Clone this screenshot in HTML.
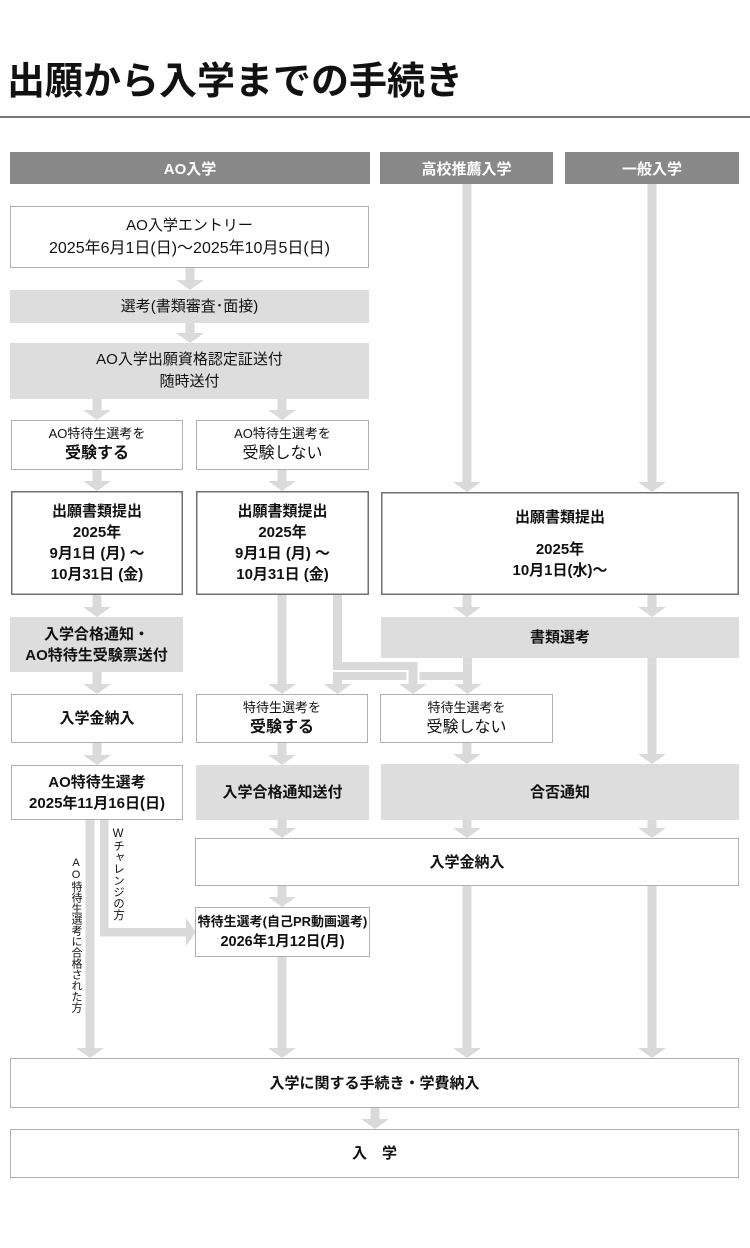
<!DOCTYPE html>
<html lang="ja">
<head>
<meta charset="utf-8">
<style>
  html,body{margin:0;padding:0;background:#fff;}
  #wrap{position:relative;width:750px;height:1248px;overflow:hidden;background:#fff;
    font-family:"Liberation Sans","Noto Sans CJK JP",sans-serif;color:#111;}
  svg{position:absolute;left:0;top:0;}
  .t{position:absolute;display:flex;flex-direction:column;justify-content:center;align-items:center;text-align:center;color:#111;white-space:nowrap;}
  .b{font-weight:bold;}
  .h{color:#fff;font-weight:bold;font-size:15px;}
  .f15{font-size:15px;line-height:21px;}
  .r15{font-size:15px;line-height:23px;}
  .s13{font-size:13px;line-height:18px;}
  .m16{font-size:16px;line-height:22px;}
  .v{position:absolute;writing-mode:vertical-rl;text-orientation:upright;font-size:11px;line-height:12px;color:#111;white-space:nowrap;}
</style>
</head>
<body>
<div id="wrap">
<svg width="750" height="1248" viewBox="0 0 750 1248" xmlns="http://www.w3.org/2000/svg">
  <rect x="0" y="116" width="750" height="2" fill="#777"/>
  <rect x="10" y="152" width="360" height="32" fill="#888"/>
  <rect x="380" y="152" width="173" height="32" fill="#888"/>
  <rect x="565" y="152" width="174" height="32" fill="#888"/>

  <g fill="#dadada">
    <rect x="462.5" y="184" width="9" height="299"/><polygon points="453,482 481,482 467,492"/>
    <rect x="647.5" y="184" width="9" height="299"/><polygon points="638,482 666,482 652,492"/>
    <rect x="185.5" y="268" width="9" height="13"/><polygon points="176,280 204,280 190,290"/>
    <rect x="185.5" y="323" width="9" height="11"/><polygon points="176,333 204,333 190,343"/>
    <rect x="92.5" y="399" width="9" height="12"/><polygon points="83,410 111,410 97,420"/>
    <rect x="277.5" y="399" width="9" height="12"/><polygon points="268,410 296,410 282,420"/>
    <rect x="92.5" y="470" width="9" height="12"/><polygon points="83,481 111,481 97,491"/>
    <rect x="277.5" y="470" width="9" height="12"/><polygon points="268,481 296,481 282,491"/>
    <rect x="92.5" y="595" width="9" height="13"/><polygon points="83,607 111,607 97,617"/>
    <rect x="462.5" y="595" width="9" height="13"/><polygon points="453,607 481,607 467,617"/>
    <rect x="647.5" y="595" width="9" height="13"/><polygon points="638,607 666,607 652,617"/>
    <rect x="277.5" y="595" width="9" height="90"/><polygon points="268,684 296,684 282,694"/>
    <rect x="333" y="595" width="9" height="75"/>
    <rect x="333" y="662" width="84.5" height="8"/>
    <rect x="408.5" y="662" width="9" height="23"/><polygon points="399,684 427,684 413,694"/>
    <rect x="463" y="658" width="9" height="27"/><polygon points="454,684 482,684 467.5,694"/>
    <rect x="333" y="672" width="73.5" height="8"/>
    <rect x="419.5" y="672" width="52.5" height="8"/>
    <rect x="333" y="672" width="9" height="13"/><polygon points="323.5,684 351.5,684 337.5,694"/>

    <rect x="92.5" y="672" width="9" height="13"/><polygon points="83,684 111,684 97,694"/>
    <rect x="92.5" y="743" width="9" height="13"/><polygon points="83,755 111,755 97,765"/>
    <rect x="277.5" y="743" width="9" height="13"/><polygon points="268,755 296,755 282,765"/>
    <rect x="462.5" y="743" width="9" height="12"/><polygon points="453,754 481,754 467,764"/>
    <rect x="647.5" y="658" width="9" height="97"/><polygon points="638,754 666,754 652,764"/>
    <rect x="277.5" y="820" width="9" height="9"/><polygon points="268,828 296,828 282,838"/>
    <rect x="462.5" y="820" width="9" height="9"/><polygon points="453,828 481,828 467,838"/>
    <rect x="647.5" y="820" width="9" height="9"/><polygon points="638,828 666,828 652,838"/>
    <rect x="277.5" y="886" width="9" height="12"/><polygon points="268,897 296,897 282,907"/>
    <rect x="462.5" y="886" width="9" height="163"/><polygon points="453,1048 481,1048 467,1058"/>
    <rect x="647.5" y="886" width="9" height="163"/><polygon points="638,1048 666,1048 652,1058"/>
    <rect x="277.5" y="957" width="9" height="92"/><polygon points="268,1048 296,1048 282,1058"/>
    <rect x="85.5" y="820" width="9" height="229"/><polygon points="76,1048 104,1048 90,1058"/>
    <rect x="100" y="820" width="8.5" height="116.5"/>
    <rect x="100" y="928" width="87" height="8.5"/><polygon points="186,918 186,946 196,932"/>
    <rect x="370.5" y="1108" width="9" height="12"/><polygon points="361,1119 389,1119 375,1129"/>
  </g>

  <g stroke="#b0b0b0" stroke-width="1" fill="#fff">
    <rect x="10.5" y="206.5" width="358" height="61"/>
    <rect x="11.5" y="420.5" width="171" height="49"/>
    <rect x="196.5" y="420.5" width="172" height="49"/>
    <rect x="11.5" y="694.5" width="171" height="48"/>
    <rect x="196.5" y="694.5" width="171" height="48"/>
    <rect x="380.5" y="694.5" width="172" height="48"/>
    <rect x="11.5" y="765.5" width="171" height="54"/>
    <rect x="195.5" y="838.5" width="543" height="47"/>
    <rect x="195.5" y="907.5" width="174" height="49"/>
    <rect x="10.5" y="1058.5" width="728" height="49"/>
    <rect x="10.5" y="1129.5" width="728" height="48"/>
  </g>
  <g stroke="#707070" stroke-width="1.5" fill="#fff">
    <rect x="11.75" y="491.75" width="170.5" height="102.5"/>
    <rect x="196.75" y="491.75" width="171.5" height="102.5"/>
    <rect x="381.75" y="492.75" width="356.5" height="101.5"/>
  </g>
  <g fill="#dddddd">
    <rect x="10" y="290" width="359" height="33"/>
    <rect x="10" y="343" width="359" height="56"/>
    <rect x="10" y="617" width="173" height="55"/>
    <rect x="381" y="617" width="358" height="41"/>
    <rect x="196" y="765" width="173" height="55"/>
    <rect x="381" y="764" width="358" height="56"/>
  </g>
</svg>

<div class="t b" style="left:7px;top:58px;height:48px;font-size:38px;line-height:48px;align-items:flex-start;">出願から入学までの手続き</div>

<div class="t h" style="left:10px;top:152px;width:360px;height:32px;">AO入学</div>
<div class="t h" style="left:380px;top:152px;width:173px;height:32px;">高校推薦入学</div>
<div class="t h" style="left:565px;top:152px;width:174px;height:32px;">一般入学</div>

<div class="t" style="left:10px;top:206px;width:359px;height:62px;font-size:15px;line-height:23px;"><div>AO入学エントリー</div><div style="font-size:16px;">2025年6月1日(日)〜2025年10月5日(日)</div></div>
<div class="t r15" style="left:10px;top:290px;width:359px;height:33px;">選考(書類審査･面接)</div>
<div class="t r15" style="left:10px;top:343px;width:359px;height:56px;line-height:22px;"><div>AO入学出願資格認定証送付</div><div>随時送付</div></div>

<div class="t" style="left:11px;top:420px;width:172px;height:50px;"><div class="s13">AO特待生選考を</div><div class="m16 b">受験する</div></div>
<div class="t" style="left:196px;top:420px;width:173px;height:50px;"><div class="s13">AO特待生選考を</div><div class="m16">受験しない</div></div>

<div class="t b f15" style="left:11px;top:491px;width:172px;height:104px;"><div>出願書類提出</div><div>2025年</div><div>9月1日 (月) 〜</div><div>10月31日 (金)</div></div>
<div class="t b f15" style="left:196px;top:491px;width:173px;height:104px;"><div>出願書類提出</div><div>2025年</div><div>9月1日 (月) 〜</div><div>10月31日 (金)</div></div>
<div class="t b f15" style="left:381px;top:492px;width:358px;height:103px;"><div style="margin-bottom:11px;">出願書類提出</div><div>2025年</div><div>10月1日(水)〜</div></div>

<div class="t b f15" style="left:10px;top:617px;width:173px;height:55px;"><div>入学合格通知・</div><div>AO特待生受験票送付</div></div>
<div class="t b f15" style="left:381px;top:617px;width:358px;height:41px;">書類選考</div>

<div class="t b f15" style="left:11px;top:694px;width:172px;height:49px;">入学金納入</div>
<div class="t" style="left:196px;top:694px;width:172px;height:49px;"><div class="s13">特待生選考を</div><div class="m16 b">受験する</div></div>
<div class="t" style="left:380px;top:694px;width:173px;height:49px;"><div class="s13">特待生選考を</div><div class="m16">受験しない</div></div>

<div class="t b f15" style="left:11px;top:765px;width:172px;height:55px;"><div>AO特待生選考</div><div>2025年11月16日(日)</div></div>
<div class="t b f15" style="left:196px;top:765px;width:173px;height:55px;">入学合格通知送付</div>
<div class="t b f15" style="left:381px;top:764px;width:358px;height:56px;">合否通知</div>

<div class="t b f15" style="left:195px;top:838px;width:544px;height:48px;">入学金納入</div>
<div class="t b" style="left:195px;top:907px;width:175px;height:50px;font-size:13px;line-height:21px;"><div>特待生選考(自己PR動画選考)</div><div style="font-size:14.5px;">2026年1月12日(月)</div></div>

<div class="t b f15" style="left:10px;top:1058px;width:729px;height:50px;">入学に関する手続き・学費納入</div>
<div class="t b f15" style="left:10px;top:1129px;width:729px;height:49px;">入　学</div>

<div class="v" style="left:110px;top:828px;font-size:11.5px;line-height:16px;">Wチャレンジの方</div>
<div class="v" style="left:68px;top:857px;font-size:11px;line-height:15px;">AO特待生選考に合格された方</div>
</div>
</body>
</html>
